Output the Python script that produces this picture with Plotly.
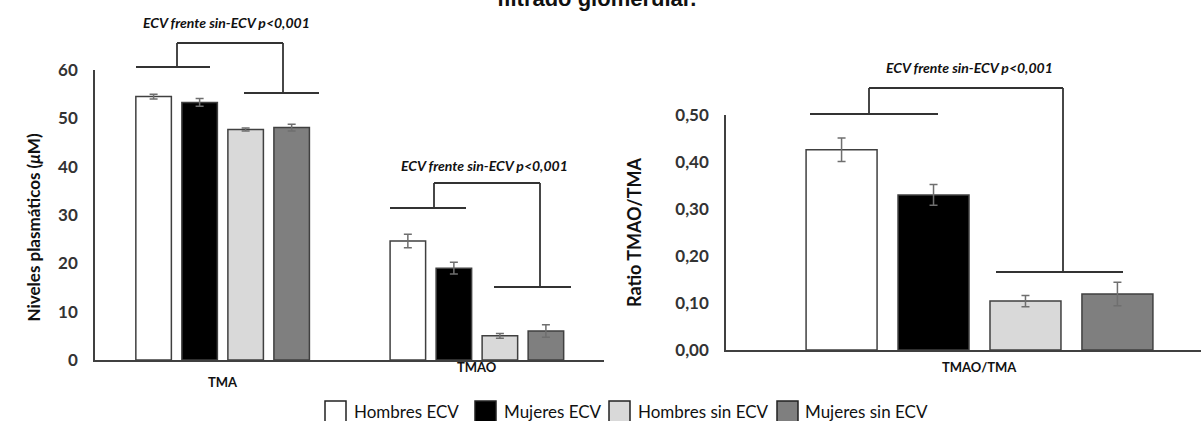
import plotly.graph_objects as go

W, H = 1201, 421

# ---------------- data ----------------
series_names = ["Hombres ECV", "Mujeres ECV", "Hombres sin ECV", "Mujeres sin ECV"]
series_colors = ["#ffffff", "#000000", "#d9d9d9", "#7f7f7f"]

left_categories = ["TMA", "TMAO"]
left_values = {
    "Hombres ECV": [54.5, 24.6],
    "Mujeres ECV": [53.3, 19.0],
    "Hombres sin ECV": [47.7, 5.0],
    "Mujeres sin ECV": [48.1, 6.0],
}
left_errors = {
    "Hombres ECV": [0.5, 1.4],
    "Mujeres ECV": [0.8, 1.2],
    "Hombres sin ECV": [0.3, 0.5],
    "Mujeres sin ECV": [0.7, 1.3],
}

right_categories = ["TMAO/TMA"]
right_values = {
    "Hombres ECV": [0.426],
    "Mujeres ECV": [0.330],
    "Hombres sin ECV": [0.104],
    "Mujeres sin ECV": [0.119],
}
right_errors = {
    "Hombres ECV": [0.025],
    "Mujeres ECV": [0.022],
    "Hombres sin ECV": [0.012],
    "Mujeres sin ECV": [0.025],
}

left_ticks = [0, 10, 20, 30, 40, 50, 60]
right_ticks = [0.0, 0.1, 0.2, 0.3, 0.4, 0.5]
right_ticktext = ["0,00", "0,10", "0,20", "0,30", "0,40", "0,50"]

sig_text = "ECV frente sin-ECV p<0,001"
left_ytitle = "Niveles plasmáticos (<i>μ</i>M)"
right_ytitle = "Ratio TMAO/TMA"
title_fragment = "filtrado glomerular."


def X(px):
    return px / W


def Y(py):
    return 1 - py / H


LINE = "#404040"
ERR = "#6f6f6f"
TICKFONT = dict(family="Lato", size=17, color="#333333", weight="bold")

fig = go.Figure()

for name, color in zip(series_names, series_colors):
    fig.add_trace(go.Bar(
        x=left_categories, y=left_values[name], name=name,
        marker=dict(color=color, line=dict(color=LINE, width=1.5)),
        error_y=dict(type="data", array=left_errors[name], color=ERR, thickness=1.5, width=4),
        xaxis="x", yaxis="y", showlegend=False,
    ))
    fig.add_trace(go.Bar(
        x=right_categories, y=right_values[name], name=name,
        marker=dict(color=color, line=dict(color=LINE, width=1.5)),
        error_y=dict(type="data", array=right_errors[name], color=ERR, thickness=1.5, width=4),
        xaxis="x2", yaxis="y2", showlegend=False,
    ))

AX = dict(automargin=False, showgrid=False, zeroline=False, ticks="",
          showline=True, linecolor=LINE, linewidth=1.5)

fig.update_layout(
    width=W, height=H,
    margin=dict(l=0, r=0, t=0, b=0, pad=0, autoexpand=False),
    paper_bgcolor="white", plot_bgcolor="white",
    barmode="group", bargap=0.276, bargroupgap=0.228,
    showlegend=False,
    xaxis=dict(AX, domain=[X(95), X(604)], range=[-0.502, 1.5], showticklabels=False),
    yaxis=dict(AX, domain=[Y(360), Y(70)], range=[0, 60], tickvals=left_ticks, tickfont=TICKFONT,
               ticklabelstandoff=12),
    xaxis2=dict(AX, domain=[X(726), 1.0], range=[-0.499, 0.436], showticklabels=False, anchor="y2"),
    yaxis2=dict(AX, domain=[Y(350), Y(115)], range=[0, 0.5], tickvals=right_ticks, ticktext=right_ticktext,
                tickfont=TICKFONT, ticklabelstandoff=12, anchor="x2"),
)

shapes = []


def seg(x0, y0, x1, y1):
    shapes.append(dict(type="line", xref="paper", yref="paper",
                       x0=X(x0), y0=Y(y0), x1=X(x1), y1=Y(y1),
                       line=dict(color="#333333", width=1.8)))


def bracket(top, xl, xr, yl, yr, l0, l1, r0, r1):
    seg(xl, top, xr, top)
    seg(xl, top, xl, yl)
    seg(l0, yl, l1, yl)
    seg(xr, top, xr, yr)
    seg(r0, yr, r1, yr)


bracket(43, 177, 283, 67, 93, 136, 210, 244, 319)
bracket(183, 434, 540, 208, 287, 390, 466, 494, 571)
bracket(88, 869, 1063, 114, 272, 810, 938, 996, 1123)

annotations = []
SIGFONT = dict(family="Lato", size=14, color="#111111", weight="bold", style="italic")
for cx, cy in [(226.5, 23), (484, 165), (969, 68)]:
    annotations.append(dict(text=sig_text, x=X(cx), y=Y(cy), xref="paper", yref="paper",
                            showarrow=False, font=SIGFONT, xanchor="center", yanchor="middle"))

CATFONT = dict(family="Lato", size=13, color="#111111", weight="bold")
annotations.append(dict(text=left_categories[0], x=left_categories[0], xref="x", y=Y(392), yref="paper",
                        showarrow=False, font=CATFONT))
annotations.append(dict(text=left_categories[1], x=left_categories[1], xref="x", y=Y(377), yref="paper",
                        showarrow=False, font=CATFONT))
annotations.append(dict(text=right_categories[0], x=right_categories[0], xref="x2", y=Y(377), yref="paper",
                        showarrow=False, font=CATFONT))

YTFONT = dict(family="Lato", size=17, color="#111111", weight="bold")
annotations.append(dict(text=left_ytitle, x=X(20), y=Y(228), xref="paper", yref="paper",
                        textangle=-90, showarrow=False, font=YTFONT))
annotations.append(dict(text=right_ytitle, x=X(634), y=Y(232), xref="paper", yref="paper",
                        textangle=-90, showarrow=False, font=dict(YTFONT, size=18)))

annotations.append(dict(text=title_fragment, x=X(596), y=Y(-1), xref="paper", yref="paper",
                        showarrow=False, xanchor="center", yanchor="middle",
                        font=dict(family="Liberation Sans", size=22, color="#111111", weight="bold")))

# manual legend
box_x = [325, 475, 609, 777]
text_x = [352, 502, 636, 803]
for name, color, bx, tx in zip(series_names, series_colors, box_x, text_x):
    shapes.append(dict(type="rect", xref="paper", yref="paper",
                       x0=X(bx), x1=X(bx + 21), y0=Y(401), y1=Y(422),
                       fillcolor=color, line=dict(color="#222222", width=1.5)))
    annotations.append(dict(text=name, x=X(tx), y=Y(411), xref="paper", yref="paper",
                            showarrow=False, xanchor="left", yanchor="middle",
                            font=dict(family="Lato", size=17, color="#111111")))

fig.update_layout(shapes=shapes, annotations=annotations)
fig.write_html("out.html", config={"displayModeBar": False},
               post_script="document.body.style.margin='0';document.body.style.overflow='hidden';")
